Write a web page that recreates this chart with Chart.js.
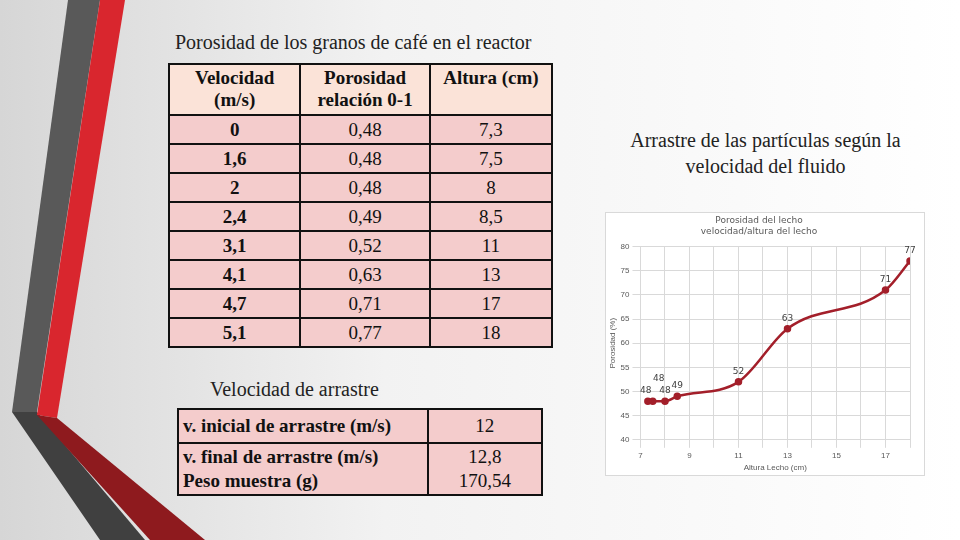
<!DOCTYPE html>
<html><head><meta charset="utf-8">
<script src="https://cdn.jsdelivr.net/npm/chart.js@4.4.0/dist/chart.umd.min.js"></script>
<style>
body{margin:0;width:960px;height:540px;overflow:hidden;background:linear-gradient(90deg,#d6d6d6,#f2f2f2 40%,#ffffff);font-family:"Liberation Serif",serif;position:relative}
.t{position:absolute;font-size:20px;color:#222;white-space:nowrap}
table{position:absolute;border-collapse:collapse;font-size:19px;color:#111}
td{border:2px solid #111;background:#f4cccc;text-align:center;padding:0}
#tab1 td{height:27px}
#tab1 tr.h td{background:#fbe3d8;font-weight:bold;height:47px;line-height:22px;vertical-align:top;padding-top:2px}
#tab1 td.b{font-weight:bold}
#tab2 td{font-weight:bold;text-align:left;padding-left:4px}
#tab2 td.r{font-weight:normal;text-align:center;padding:0}
#box{position:absolute;left:605px;top:212px;width:318px;height:262px;background:#fff;border:1px solid #d9d9d9}
</style></head><body>
<svg width="240" height="540" style="position:absolute;left:0;top:0">
  <polygon points="68,0 100,0 37,412 12,412" fill="#595959"/>
  <polygon points="12,412 37,412 145,540 100,540" fill="#404040"/>
  <polygon points="100,0 125,0 57,418 37,415" fill="#d9262e"/>
  <polygon points="37,415 57,418 205,540 150,540" fill="#8e1a1e"/>
</svg>
<div class="t" style="left:175px;top:31px">Porosidad de los granos de café en el reactor</div>
<table id="tab1" style="left:168px;top:63px;width:385px">
  <colgroup><col style="width:132px"><col style="width:130px"><col style="width:123px"></colgroup>
  <tr class="h"><td>Velocidad<br>(m/s)</td><td>Porosidad<br>relación 0-1</td><td>Altura (cm)</td></tr>
</table>
<div class="t" style="left:210px;top:378px">Velocidad de arrastre</div>
<table id="tab2" style="left:177px;top:408px;width:366px">
  <colgroup><col style="width:251px"><col style="width:115px"></colgroup>
  <tr><td style="height:32px">v. inicial de arrastre (m/s)</td><td class="r">12</td></tr>
  <tr><td style="height:50px;line-height:24px">v. final de arrastre (m/s)<br>Peso muestra (g)</td><td class="r" style="line-height:24px">12,8<br>170,54</td></tr>
</table>
<div class="t" style="left:608px;top:127px;width:315px;text-align:center;line-height:26px">Arrastre de las partículas según la<br>velocidad del fluido</div>
<div id="box"><canvas id="c" width="318" height="262"></canvas></div>
<script>
var velocidad = ["0", "1,6", "2", "2,4", "3,1", "4,1", "4,7", "5,1"];
var porosidad = ["0,48", "0,48", "0,48", "0,49", "0,52", "0,63", "0,71", "0,77"];
var altura    = [7.3, 7.5, 8, 8.5, 11, 13, 17, 18];
var porcentaje = [48, 48, 48, 49, 52, 63, 71, 77];

// filas de la tabla
var tb = document.getElementById("tab1");
for (var i = 0; i < velocidad.length; i++) {
  var tr = document.createElement("tr");
  tr.innerHTML = '<td class="b">' + velocidad[i] + '</td><td>' + porosidad[i] + '</td><td>' + String(altura[i]).replace(".", ",") + '</td>';
  tb.appendChild(tr);
}

var etiquetas = {
  id: "etiquetas",
  afterDatasetsDraw: function (ch) {
    var ctx = ch.ctx, pts = ch.getDatasetMeta(0).data;
    ctx.save();
    ctx.font = "9px 'DejaVu Sans'";
    ctx.fillStyle = "#404040";
    ctx.textAlign = "center";
    pts.forEach(function (p, i) {
      var dx = 0, dy = -8;
      if (i == 0) { dx = -2; dy = -8; }
      if (i == 1) { dx = 6; dy = -20; }
      ctx.fillText(porcentaje[i], p.x + dx, p.y + dy);
    });
    ctx.restore();
  }
};

new Chart(document.getElementById("c"), {
  type: "line",
  data: {
    datasets: [{
      data: altura.map(function (x, i) { return { x: x, y: porcentaje[i] }; }),
      borderColor: "#a31f2a",
      backgroundColor: "#a31f2a",
      borderWidth: 2.5,
      pointRadius: 2.5,
      cubicInterpolationMode: "monotone"
    }]
  },
  options: {
    responsive: false,
    animation: false,
    layout: { padding: { right: 14, left: 2, bottom: 2 } },
    plugins: {
      legend: { display: false },
      tooltip: { enabled: false },
      title: { display: true, text: ["Porosidad del lecho", "velocidad/altura del lecho"], color: "#595959",
               font: { family: "DejaVu Sans", size: 9, weight: "normal" }, padding: { top: 2, bottom: 10 } }
    },
    scales: {
      x: {
        type: "linear", min: 7, max: 18,
        ticks: { stepSize: 1, color: "#595959", font: { size: 8 }, autoSkip: false,
                 callback: function (v) { return (v % 2 == 1 && v < 18) ? v : ""; } },
        grid: { color: "#d9d9d9" }, border: { color: "#d9d9d9" },
        title: { display: true, text: "Altura Lecho (cm)", color: "#595959", font: { size: 8 }, padding: 0 }
      },
      y: {
        min: 40, max: 80,
        ticks: { stepSize: 5, color: "#595959", font: { size: 8 } },
        grid: { color: "#d9d9d9" }, border: { color: "#d9d9d9" },
        title: { display: true, text: "Porosidad (%)", color: "#595959", font: { size: 8 }, padding: 0 }
      }
    }
  },
  plugins: [etiquetas]
});
</script>
</body></html>
